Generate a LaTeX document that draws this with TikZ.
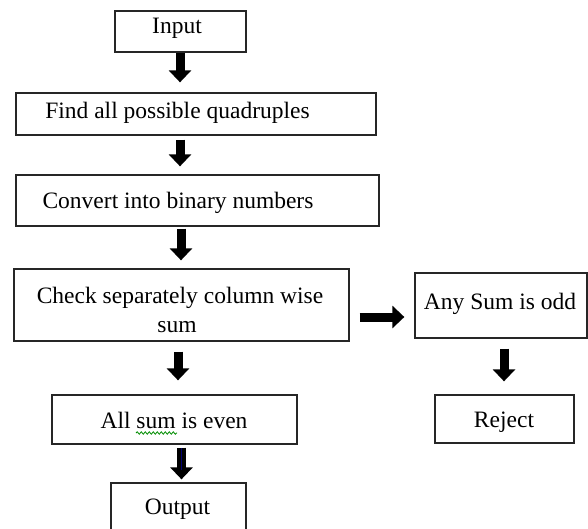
\documentclass[tikz,border=0pt]{standalone}
\usepackage{fontspec}
\setmainfont{Liberation Serif}
\usetikzlibrary{arrows.meta,decorations.pathmorphing}
\tikzset{
  box/.style={draw=black!85, line width=1.3pt, rectangle, inner sep=0pt},
  txt/.style={anchor=base, inner sep=0pt, font=\fontsize{23.5}{29}\selectfont},
  blk/.style={line width=9pt, -{Triangle[length=12pt,width=22pt]}}
}
\begin{document}
\begin{tikzpicture}[x=1pt, y=-1pt]
\useasboundingbox (0,0) rectangle (588,528);
\clip (0,0) rectangle (588,528);

% boxes
\node[box, minimum width=131pt, minimum height=41pt] (inp)  at (180.5,31.5) {};
\node[box, minimum width=360pt, minimum height=42pt] (find) at (196,114) {};
\node[box, minimum width=363pt, minimum height=51pt] (conv) at (197.5,200.5) {};
\node[box, minimum width=335pt, minimum height=72pt] (chk)  at (181.5,305) {};
\node[box, minimum width=245pt, minimum height=49pt] (even) at (174.5,419.5) {};
\node[box, minimum width=135pt, minimum height=77pt] (outp) at (178.5,521.5) {};
\node[box, minimum width=172pt, minimum height=65pt] (odd)  at (501,305.5) {};
\node[box, minimum width=139pt, minimum height=48pt] (rej)  at (504.5,419) {};

% labels
\node[txt] (tinp)  at (177,33)   {Input};
\node[txt] (tfind) at (177.5,118) {Find all possible quadruples};
\node[txt] (tconv) at (178,208)  {Convert into binary numbers};
\node[txt] (tchk1) at (180,303)  {Check separately column wise};
\node[txt] (tchk2) at (177,332)  {sum};
\node[txt] (teven) at (174,428)  {All sum is even};
\node[txt] (toutp) at (177.5,514) {Output};
\node[txt] (todd)  at (500,309)  {Any Sum is odd};
\node[txt] (trej)  at (504,427)  {Reject};

% spell-check underline beneath "sum"
\draw[green!55!black, line width=0.8pt, decorate,
      decoration={snake, amplitude=1.2pt, segment length=4pt}]
  (136,433) -- (177,433);

% arrow columns
\coordinate (c1) at (180,0);
\coordinate (c2) at (181,0);
\coordinate (c3) at (178,0);
\coordinate (c4) at (181.5,0);
\coordinate (c5) at (504,0);
\coordinate (r1) at (0,317);

% connectors
\draw[blk, shorten >=10pt] (inp.south -| c1) -- (find.north -| c1);
\draw[blk, shorten <=4pt, shorten >=8pt] (find.south -| c1) -- (conv.north -| c1);
\draw[blk, shorten <=2pt, shorten >=8pt] (conv.south -| c2) -- (chk.north -| c2);
\draw[blk, shorten <=10pt, shorten >=14pt] (chk.south -| c3) -- (even.north -| c3);
\draw[blk, shorten <=3pt, shorten >=3pt] (even.south -| c4) -- (outp.north -| c4);
\draw[blk, shorten <=10pt, shorten >=10pt] (chk.east |- r1) -- (odd.west |- r1);
\draw[blk, shorten <=10pt, shorten >=13pt] (odd.south -| c5) -- (rej.north -| c5);

% thin blue streak inside the last shaft
\draw[blue!45!black, line width=1.2pt] (181.5,448) -- (181.5,470);
\end{tikzpicture}
\end{document}
